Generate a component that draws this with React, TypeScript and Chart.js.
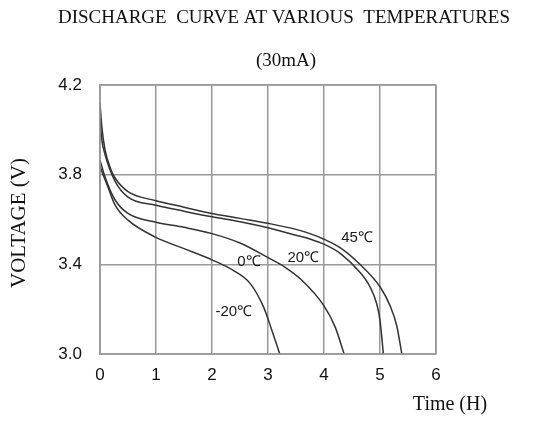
import React, { useEffect, useRef } from "react";
import { Chart, registerables } from "chart.js";

Chart.register(...registerables);

const t45 = [0, 0.03, 0.09, 0.2, 0.27, 0.5, 1.0, 1.5, 2.0, 2.5, 3.0, 3.5, 3.75, 4.0, 4.3, 4.64, 5.0, 5.18, 5.3, 5.39];
const v45 = [4.12, 4.02, 3.91, 3.82, 3.785, 3.724, 3.684, 3.655, 3.627, 3.605, 3.583, 3.556, 3.537, 3.512, 3.472, 3.4, 3.3, 3.215, 3.125, 3.0];

const t20 = [0, 0.03, 0.09, 0.27, 0.5, 1.0, 1.5, 2.0, 2.5, 3.0, 3.5, 3.75, 4.0, 4.3, 4.64, 4.82, 4.94, 5.0, 5.06];
const v20 = [4.05, 3.96, 3.89, 3.77, 3.7, 3.664, 3.637, 3.612, 3.59, 3.563, 3.53, 3.513, 3.49, 3.447, 3.365, 3.3, 3.225, 3.15, 3.0];

const t0 = [0, 0.09, 0.27, 0.5, 1.0, 1.5, 2.0, 2.5, 3.0, 3.3, 3.6, 4.0, 4.2, 4.36];
const v0 = [3.865, 3.79, 3.687, 3.627, 3.588, 3.565, 3.537, 3.495, 3.43, 3.388, 3.33, 3.215, 3.12, 3.0];

const tm20 = [0, 0.14, 0.27, 0.5, 1.0, 1.5, 2.0, 2.4, 2.68, 2.92, 3.07, 3.21];
const vm20 = [3.835, 3.746, 3.664, 3.597, 3.52, 3.47, 3.42, 3.37, 3.315, 3.21, 3.105, 3.0];

const seriesNames = ["45℃", "20℃", "0℃", "-20℃"];
const labelT = [4.59, 3.63, 2.66, 2.39];
const labelV = [3.52, 3.43, 3.41, 3.19];

const titleText = "DISCHARGE  CURVE AT VARIOUS  TEMPERATURES";
const subtitleText = "(30mA)";
const yTitle = "VOLTAGE (V)";
const xTitle = "Time (H)";

const zip = (t: number[], v: number[]) => t.map((x, i) => ({ x, y: v[i] }));

const SERIF = "'Liberation Serif', 'Times New Roman', serif";
const SANS = "'Liberation Sans', Arial, sans-serif";

const textPlugin = {
  id: "textPlugin",
  afterDraw(chart: any) {
    const ctx = chart.ctx;
    const xs = chart.scales.x;
    const ys = chart.scales.y;
    ctx.save();
    ctx.fillStyle = "#111";
    ctx.textBaseline = "middle";
    ctx.textAlign = "center";
    ctx.font = `19px ${SERIF}`;
    ctx.fillText(titleText, 284, 18);
    ctx.fillText(subtitleText, 286, 61);
    ctx.font = `20px ${SERIF}`;
    ctx.fillText(xTitle, 450, 405);
    ctx.save();
    ctx.translate(19, 223);
    ctx.rotate(-Math.PI / 2);
    ctx.font = `21px ${SERIF}`;
    ctx.fillText(yTitle, 0, 0);
    ctx.restore();
    ctx.font = `15px ${SANS}`;
    ctx.fillStyle = "#1a1a1a";
    seriesNames.forEach((n, i) => {
      ctx.fillText(n, xs.getPixelForValue(labelT[i]), ys.getPixelForValue(labelV[i]));
    });
    ctx.restore();
  },
};

export default function App() {
  const ref = useRef<HTMLCanvasElement>(null);
  useEffect(() => {
    if (!ref.current) return;
    const lineStyle = {
      borderColor: "#333333",
      borderWidth: 1.5,
      pointRadius: 0,
      fill: false,
      cubicInterpolationMode: "monotone" as const,
    };
    const chart = new Chart(ref.current, {
      type: "line",
      data: {
        datasets: [
          { label: seriesNames[0], data: zip(t45, v45), ...lineStyle },
          { label: seriesNames[1], data: zip(t20, v20), ...lineStyle },
          { label: seriesNames[2], data: zip(t0, v0), ...lineStyle },
          { label: seriesNames[3], data: zip(tm20, vm20), ...lineStyle },
        ],
      },
      options: {
        responsive: false,
        animation: false,
        devicePixelRatio: 1,
        layout: { padding: { left: 50, right: 111, top: 85, bottom: 27 } },
        plugins: { legend: { display: false }, tooltip: { enabled: false }, title: { display: false } },
        scales: {
          x: {
            type: "linear",
            min: 0,
            max: 6,
            grid: { color: "#9a9a9a", lineWidth: 1.5, drawTicks: false },
            border: { color: "#9a9a9a", width: 1.5 },
            ticks: {
              stepSize: 1,
              padding: 11,
              color: "#111",
              font: { family: SANS, size: 17 },
              maxRotation: 0,
            },
            afterFit: (s: any) => {
              s.height = 40;
            },
          },
          y: {
            type: "linear",
            min: 3.0,
            max: 4.2,
            grid: { color: "#9a9a9a", lineWidth: 1.5, drawTicks: false },
            border: { color: "#9a9a9a", width: 1.5 },
            ticks: {
              stepSize: 0.4,
              padding: 18,
              color: "#111",
              font: { family: SANS, size: 17 },
              callback: (v: any) => Number(v).toFixed(1),
            },
            afterFit: (s: any) => {
              s.width = 50;
            },
          },
        },
      },
      plugins: [
        textPlugin,
        {
          id: "frame",
          afterDatasetsDraw(c: any) {
            const { left, right, top, bottom } = c.chartArea;
            const ctx = c.ctx;
            ctx.save();
            ctx.strokeStyle = "#9a9a9a";
            ctx.lineWidth = 1.5;
            ctx.strokeRect(left, top, right - left, bottom - top);
            ctx.restore();
          },
        },
      ],
    });
    return () => chart.destroy();
  }, []);
  return (
    <canvas
      ref={ref}
      width={547}
      height={421}
      style={{ position: "absolute", left: 0, top: 0, width: 547, height: 421, background: "#fff" }}
    />
  );
}
